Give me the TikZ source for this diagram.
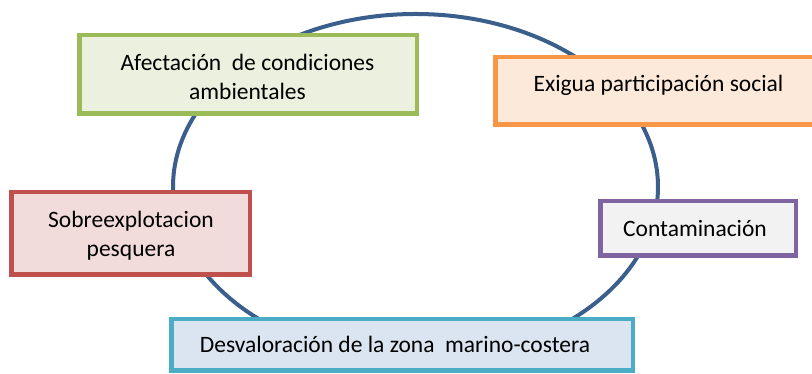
\documentclass[tikz,border=0pt]{standalone}
\usepackage{fontspec}
\setmainfont{Carlito}
\usetikzlibrary{shapes.geometric}
\definecolor{ringblue}{HTML}{3A5F8D}
\definecolor{gborder}{HTML}{9BBB59}\definecolor{gfill}{HTML}{EBF1DE}
\definecolor{oborder}{HTML}{F79646}\definecolor{ofill}{HTML}{FDE9D9}
\definecolor{pborder}{HTML}{8064A2}\definecolor{pfill}{HTML}{F2F2F2}
\definecolor{rborder}{HTML}{C0504D}\definecolor{rfill}{HTML}{F2DCDB}
\definecolor{aborder}{HTML}{4BACC6}\definecolor{afill}{HTML}{DBE5F1}
\tikzset{
  ringline/.style={draw=ringblue, line width=4pt, ellipse, inner sep=0pt},
  boxshape/.style={rectangle, line width=4.5pt, inner sep=0pt},
  boxtext/.style={anchor=base, align=center, inner sep=0pt, text=black,
    font=\fontsize{23.5}{29.5}\selectfont}
}
\begin{document}
\begin{tikzpicture}[x=1pt,y=1pt]
\useasboundingbox (0,0) rectangle (812,374);
\clip (0,0) rectangle (812,374);
% ring
\node[ringline, minimum width=485pt, minimum height=346pt] (ring) at (415.5,187) {};
% boxes
\node[boxshape, draw=gborder, fill=gfill, minimum width=337.5pt, minimum height=78.5pt] (afect) at (248,299.5) {};
\node[boxshape, draw=oborder, fill=ofill, minimum width=326.5pt, minimum height=67.5pt] (exigua) at (658.5,283) {};
\node[boxshape, draw=pborder, fill=pfill, minimum width=195.5pt, minimum height=54.5pt] (contam) at (698,145.5) {};
\node[boxshape, draw=rborder, fill=rfill, minimum width=238.5pt, minimum height=82.5pt] (sobre) at (130.5,140.5) {};
\node[boxshape, draw=aborder, fill=afill, minimum width=461.5pt, minimum height=51.5pt] (desval) at (402,29) {};
% texts (base anchor = baseline of the last line)
\node[boxtext] (afect-t) at (247.5,274) {Afectación\ \ de condiciones\\ambientales};
\node[boxtext] (exigua-t) at (658.5,282) {Exigua participación social};
\node[boxtext] (contam-t) at (695,137) {Contaminación};
\node[boxtext] (sobre-t) at (131,117) {Sobreexplotacion\\pesquera};
\node[boxtext] (desval-t) at (395,21) {Desvaloración de la zona\ \ marino-costera};
\end{tikzpicture}
\end{document}
